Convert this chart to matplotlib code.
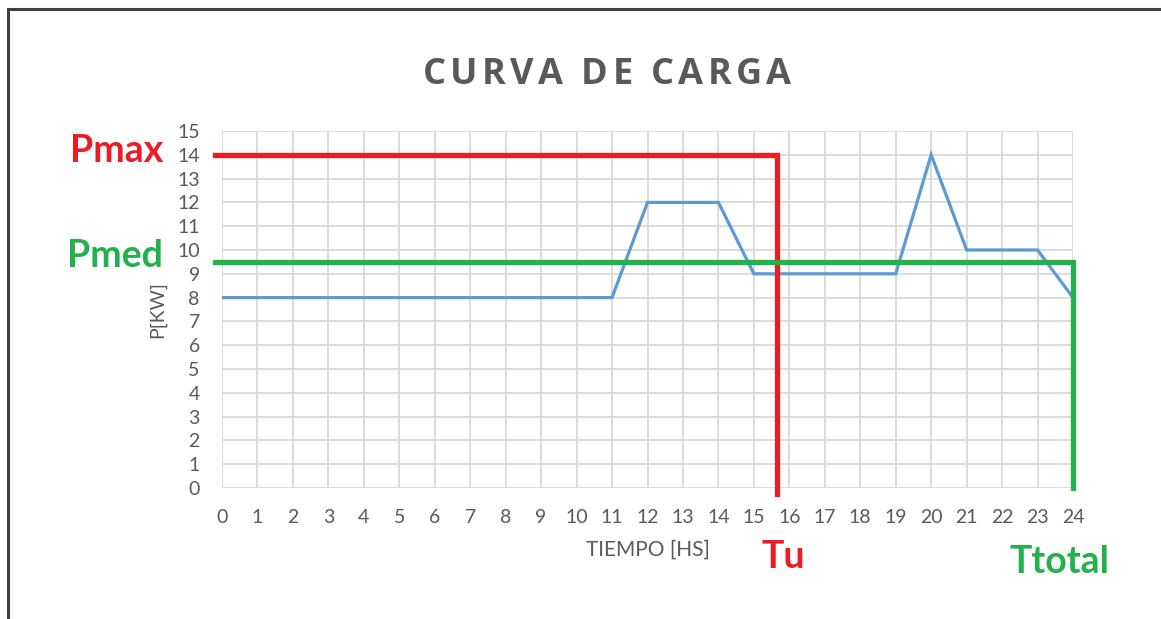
import matplotlib.pyplot as plt
from matplotlib.patches import Rectangle

# load curve
hours = list(range(25))
power = [8, 8, 8, 8, 8, 8, 8, 8, 8, 8, 8, 8, 12, 12, 12, 9, 9, 9, 9, 9, 14, 10, 10, 10, 8]

p_max = 14
p_med = 9.5
t_u = 15.65
t_total = 24

title = 'CURVA DE CARGA'

blue = '#5B9BD5'
red = '#ED1C24'
green = '#22B14C'
grey = '#595959'

plt.rcParams['font.family'] = ['Lato', 'DejaVu Sans']

W, H = 1161, 619
fig = plt.figure(figsize=(W / 100, H / 100), dpi=100)
ax = fig.add_axes([222 / W, (H - 488) / H, 851 / W, 357 / H])

# outer frame (only top and left edge are in the picture)
fig.patches.append(Rectangle((8 / W, -0.1), 1.2, (H - 9) / H + 0.1,
                             transform=fig.transFigure, fill=False,
                             edgecolor='#404040', linewidth=2.2))

ax.plot(hours, power, color=blue, linewidth=2.3, zorder=3, solid_joinstyle='miter')

# Pmax / Tu lines
ax.plot([-0.2, t_u, t_u], [p_max, p_max, -0.25], color=red, linewidth=3.8,
        clip_on=False, zorder=4, solid_joinstyle='miter')
# Pmed / Ttotal lines
ax.plot([-0.2, t_total, t_total], [p_med, p_med, 0], color=green, linewidth=3.8,
        clip_on=False, zorder=4, solid_joinstyle='miter')

ax.set_xlim(0, 24)
ax.set_ylim(0, 15)
ax.set_xticks(range(25))
ax.set_yticks(range(16))
ax.grid(True, color='#D9D9D9', linewidth=1.3)
ax.set_axisbelow(True)
for s in ax.spines.values():
    s.set_visible(False)
ax.tick_params(axis='x', length=0, pad=15, labelsize=14, labelcolor=grey)
ax.tick_params(axis='y', length=0, pad=16, labelsize=14, labelcolor=grey)

ax.set_xlabel('TIEMPO [HS]', fontsize=15, color=grey, labelpad=10)
ax.set_ylabel('P[KW]', fontsize=14, color=grey, labelpad=8)

# title with letter spacing: place letters one by one
renderer = fig.canvas.get_renderer()
spacing = 4.5  # px between letters
pieces = []
for ch in title:
    t = fig.text(0, 1 - 75 / H, ch, ha='left', va='center', fontsize=26,
                 fontweight='bold', color=grey, family='Open Sans')
    w = t.get_window_extent(renderer).width if ch != ' ' else 9
    pieces.append((t, w))
total = sum(w for _, w in pieces) + spacing * (len(pieces) - 1)
x = 607 - total / 2
for t, w in pieces:
    t.set_x(x / W)
    x += w + spacing

fig.text(163 / W, 1 - 151 / H, 'Pmax', ha='right', va='center',
         fontsize=27, fontweight='bold', color=red)
fig.text(163 / W, 1 - 256 / H, 'Pmed', ha='right', va='center',
         fontsize=27, fontweight='bold', color=green)
fig.text(783 / W, 1 - 557 / H, 'Tu', ha='center', va='center',
         fontsize=27, fontweight='bold', color=red)
fig.text(1059 / W, 1 - 562 / H, 'Ttotal', ha='center', va='center',
         fontsize=27, fontweight='bold', color=green)

fig.savefig('out.png', dpi=100)
